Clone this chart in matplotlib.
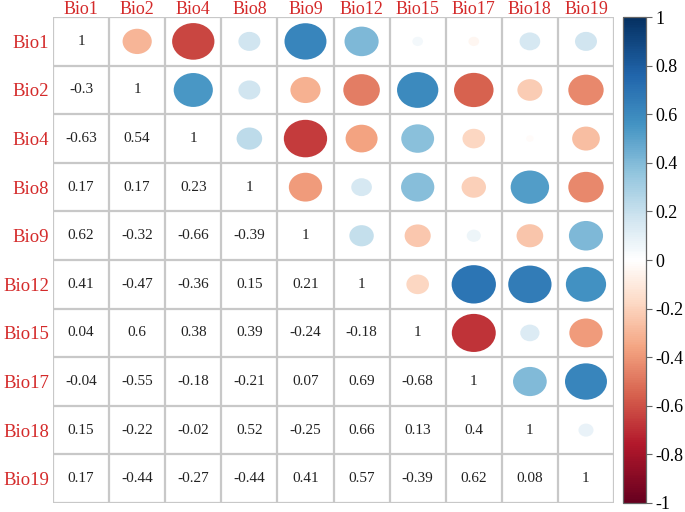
import numpy as np
import matplotlib
matplotlib.use("Agg")
import matplotlib.pyplot as plt
from matplotlib.patches import Ellipse
from matplotlib.colors import Normalize, LinearSegmentedColormap
from matplotlib.transforms import blended_transform_factory, offset_copy

labels = ["Bio1", "Bio2", "Bio4", "Bio8", "Bio9", "Bio12", "Bio15", "Bio17", "Bio18", "Bio19"]
lower_rows = [
    [],
    [-0.3],
    [-0.63, 0.54],
    [0.17, 0.17, 0.23],
    [0.62, -0.32, -0.66, -0.39],
    [0.41, -0.47, -0.36, 0.15, 0.21],
    [0.04, 0.6, 0.38, 0.39, -0.24, -0.18],
    [-0.04, -0.55, -0.18, -0.21, 0.07, 0.69, -0.68],
    [0.15, -0.22, -0.02, 0.52, -0.25, 0.66, 0.13, 0.4],
    [0.17, -0.44, -0.27, -0.44, 0.41, 0.57, -0.39, 0.62, 0.08],
]
cbar_ticks = [-1, -0.8, -0.6, -0.4, -0.2, 0, 0.2, 0.4, 0.6, 0.8, 1]

n = len(labels)
corr = np.eye(n)
for i, row in enumerate(lower_rows):
    for j, v in enumerate(row):
        corr[i, j] = v
        corr[j, i] = v

plt.rcParams["font.family"] = ["Liberation Serif", "DejaVu Serif"]
plt.rcParams["axes.unicode_minus"] = False

# corrplot-style RdBu palette (white centre), slightly deepened
stops = [-1.0, -0.76, -0.56, -0.36, -0.17, 0.0, 0.17, 0.36, 0.56, 0.76, 1.0]
cols = ["#67001F", "#B2182B", "#D6604D", "#F4A582", "#FDDBC7", "#FFFFFF",
        "#D1E5F0", "#92C5DE", "#4393C3", "#2166AC", "#053061"]
cmap = LinearSegmentedColormap.from_list(
    "corr", list(zip([(s + 1) / 2 for s in stops], cols)), N=256)
norm = Normalize(-1, 1)

fig = plt.figure(figsize=(6.85, 5.12), dpi=100)
ax = fig.add_axes([0.0774, 0.0176, 0.819, 0.949])

ax.set_xlim(0, n)
ax.set_ylim(n, 0)
grid_col = "#c8c8c8"
for k in range(n + 1):
    ax.axhline(k, color=grid_col, lw=1.6, zorder=1)
    ax.axvline(k, color=grid_col, lw=1.6, zorder=1)

for i in range(n):
    for j in range(n):
        v = corr[i, j]
        if i >= j:
            ax.text(j + 0.5, i + 0.5, f"{v:g}", ha="center", va="center",
                    fontsize=11, color="#222222", zorder=3)
        else:
            d = 0.95 * np.sqrt(abs(v))
            ax.add_patch(Ellipse((j + 0.5, i + 0.5), d, d,
                                 facecolor=cmap(norm(v)), edgecolor="none", zorder=2))

lab_col = "#d42a2a"
ax.set_xticks([])
ax.set_yticks(np.arange(n) + 0.5)
ax.set_yticklabels(labels, fontsize=13.5, color=lab_col)
ax.tick_params(length=0, pad=3)
top_tr = offset_copy(blended_transform_factory(ax.transData, ax.transAxes),
                     fig=fig, x=0, y=3, units="dots")
for j, lab in enumerate(labels):
    ax.text(j + 0.5, 1.0, lab, transform=top_tr, ha="center", va="baseline",
            fontsize=13, color=lab_col)
for s in ax.spines.values():
    s.set_visible(False)

cax = fig.add_axes([0.9095, 0.0176, 0.0336, 0.949])
sm = plt.cm.ScalarMappable(norm=norm, cmap=cmap)
cb = fig.colorbar(sm, cax=cax, ticks=cbar_ticks)
cb.ax.set_yticklabels([f"{t:g}" for t in cbar_ticks], fontsize=13)
cb.ax.tick_params(length=4, width=0.8, pad=3, color="#666666")
cb.outline.set_linewidth(0.9)
cb.outline.set_edgecolor("#666666")

fig.savefig("out.png", dpi=100)
